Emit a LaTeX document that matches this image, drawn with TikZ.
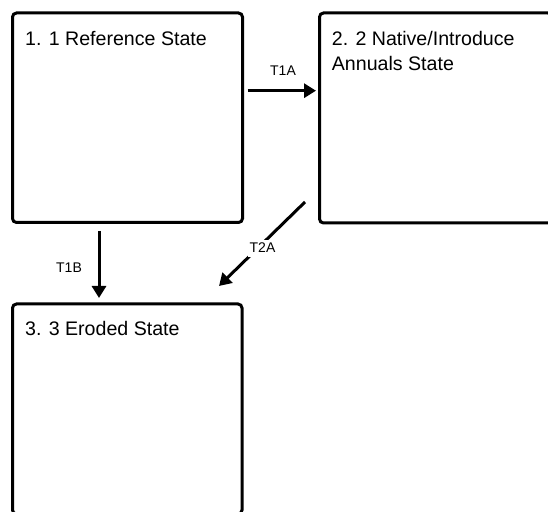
\documentclass[tikz,border=0pt]{standalone}
\usepackage{fontspec}
\setmainfont{Liberation Sans}
\usetikzlibrary{arrows.meta,calc}
\begin{document}
\begin{tikzpicture}[x=1pt,y=1pt,
  statebox/.style={draw=black, line width=3pt, rounded corners=4pt, inner sep=0pt, outer sep=0pt, fill=white},
  titletext/.style={font=\fontsize{19.6}{25}\selectfont, inner sep=0pt, anchor=base west, align=left},
  arr/.style={line width=3pt, -{Triangle[length=12pt,width=14pt]}},
  lbl/.style={font=\fontsize{14}{16}\selectfont, inner sep=2pt, text height=10pt, text depth=3pt, fill=white}]
\useasboundingbox (0,0) rectangle (548,511);
\clip (0,0) rectangle (548,511);
% state boxes
\node[statebox, minimum width=230pt, minimum height=209.5pt] (b1) at (127.5,393.25) {};
\node[statebox, minimum width=232.5pt, minimum height=210pt] (b2) at (435.75,393) {};
\node[statebox, minimum width=229.5pt, minimum height=210pt] (b3) at (127.25,102) {};
% titles
\node[titletext] (t1) at ([shift={(12.5,-32.7)}]b1.north west) {1. 1 Reference State};
\node[titletext] (t2) at ([shift={(12.2,-57.7)}]b2.north west) {2. 2 Native/Introduce\\Annuals State};
\node[titletext] (t3) at ([shift={(12.5,-31.7)}]b3.north west) {3. 3 Eroded State};
% connector end points
\coordinate (a1s) at (247.5,420.3);
\coordinate (a1e) at (316,420.3);
\coordinate (a2s) at (99,280);
\coordinate (a2e) at (99,213);
\coordinate (a3s) at (305,309);
\coordinate (a3e) at (219,225);
% connectors
\draw[arr] (a1s) -- (a1e);
\draw[arr] (a2s) -- (a2e);
\draw[arr] (a3s) -- (a3e);
% labels
\node[lbl] (l1) at (283,439) {T1A};
\node[lbl] (l2) at (69,242) {T1B};
\node[lbl] (l3) at (262.5,262) {T2A};
\end{tikzpicture}
\end{document}
